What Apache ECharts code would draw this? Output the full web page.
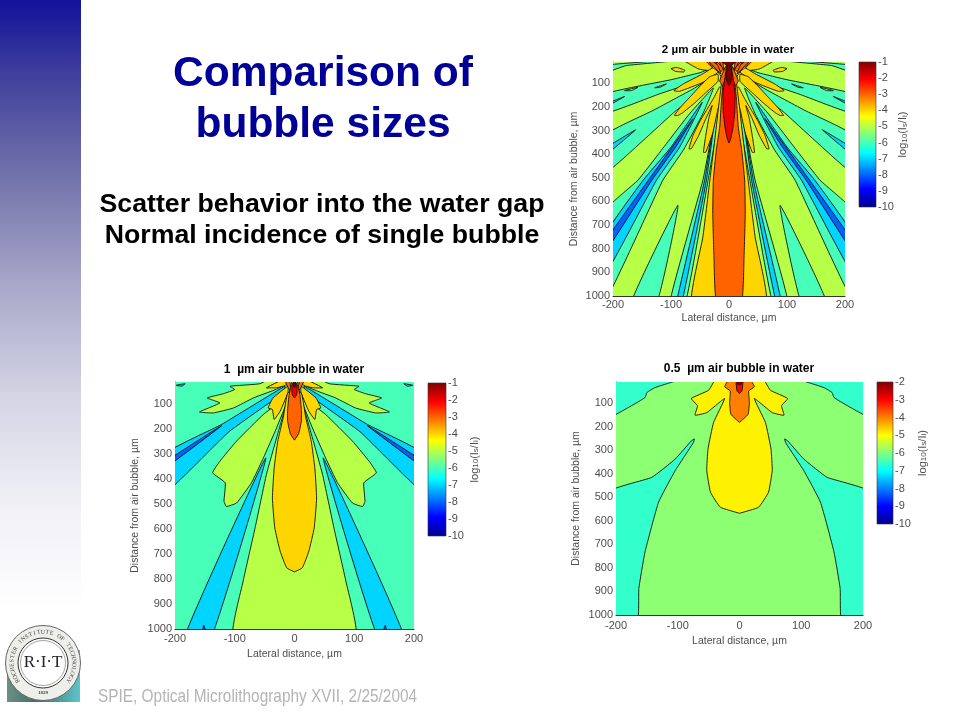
<!DOCTYPE html>
<html>
<head>
<meta charset="utf-8">
<style>html,body{margin:0;padding:0;background:#fff;overflow:hidden}#main{width:960px;height:720px}</style>
<script src="https://cdn.jsdelivr.net/npm/echarts@6/dist/echarts.min.js"></script>
</head>
<body>
<div id="main"></div>
<script>
// tick labels
var xTicks = [-200, -100, 0, 100, 200];
var yTicks = [100, 200, 300, 400, 500, 600, 700, 800, 900, 1000];
var chartTitles = ['2 \u00b5m air bubble in water', '1  \u00b5m air bubble in water', '0.5  \u00b5m air bubble in water'];
var colorRanges = [[-10, -1], [-10, -1], [-10, -2]];

// contour regions: [level, kind, outline as [lateral, distance]]
// kind: one = as is, pair = also mirrored, sym = left half closed by its mirror
var bubble2Regions = [
	[-5, 'one', [[-200, 0], [200, 0], [200, 1000], [-200, 1000]]],
	[-6, 'pair', [[-200, 21], [-145, 11], [-177, 25], [-200, 44]]],
	[-6, 'pair', [[-200, 138], [-100, 85], [-50, 55], [-28, 35], [-30, 55], [-60, 95], [-120, 145], [-200, 215]]],
	[-5, 'pair', [[-180, 131], [-157, 117], [-168, 131]]],
	[-5, 'pair', [[-128, 119], [-108, 103], [-119, 117]]],
	[-7, 'pair', [[-200, 176], [-180, 156], [-200, 183]]],
	[-6, 'pair', [[-200, 302], [-131, 215], [-62, 124], [-28, 75], [-39, 124], [-91, 215], [-148, 342], [-200, 451]]],
	[-7, 'pair', [[-200, 356], [-161, 297], [-200, 377]]],
	[-6, 'pair', [[-200, 609], [-157, 510], [-108, 356], [-68, 229], [-27, 120], [-45, 229], [-79, 384], [-114, 510], [-200, 1000]]],
	[-7, 'pair', [[-200, 693], [-148, 510], [-100, 370], [-46, 180], [-85, 370], [-125, 510], [-200, 848]]],
	[-8, 'pair', [[-200, 722], [-139, 510], [-98, 370], [-62, 250], [-92, 370], [-133, 510], [-200, 764]]],
	[-6, 'pair', [[-163, 1000], [-88, 616], [-122, 1000]]],
	[-6, 'pair', [[-99, 1000], [-45, 510], [-25, 250], [-15, 120], [-18, 250], [-36, 510], [-73, 1000]]],
	[-7, 'pair', [[-88, 1000], [-42, 510], [-22, 200], [-39, 510], [-79, 1000]]],
	[-4, 'pair', [[-100, 38], [-90, 33], [-76, 45], [-78, 52], [-92, 50]]],
	[-4, 'pair', [[-71, 12], [-53, 39], [-33, 46], [-27, 25], [-25, 12]]],
	[-4, 'pair', [[-95, 131], [-79, 103], [-45, 60], [-28, 35], [-19, 53], [-45, 96], [-85, 134]]],
	[-4, 'pair', [[-94, 236], [-85, 205], [-68, 160], [-50, 112], [-33, 72], [-19, 62], [-19, 92], [-40, 140], [-60, 185], [-80, 225], [-88, 236]]],
	[-4, 'pair', [[-69, 377], [-62, 320], [-50, 260], [-39, 215], [-27, 165], [-16, 115], [-11, 130], [-20, 220], [-28, 310], [-40, 392], [-44, 392], [-40, 320], [-35, 250], [-29, 194], [-40, 250], [-52, 320], [-65, 377]]],
	[-4, 'sym', [[-30, 10], [-14, 70], [-13, 100], [-18, 200], [-25, 350], [-33, 510], [-45, 750], [-62, 1000]]],
	[-3, 'sym', [[-4, 15], [-6, 40], [-10, 90], [-13, 173], [-16, 285], [-22, 384], [-27, 510], [-28, 650], [-26, 830], [-22, 1000]]],
	[-3, 'pair', [[-14, 14], [-22, 22], [-14, 50], [-9, 38]]],
	[-3, 'pair', [[-6, 30], [-16, 90], [-11, 110], [-4, 60]]],
	[-3, 'pair', [[-31, 10], [-20, 26], [-24, 10]]],
	[-3, 'pair', [[-20, 10], [-12, 30], [-15, 10]]],
	[-3, 'pair', [[-38, 10], [-30, 30], [-34, 10]]],
	[-3, 'pair', [[-16, 10], [-9, 45], [-11, 10]]],
	[-3, 'pair', [[-26, 12], [-14, 60], [-20, 22]]],
	[-2, 'sym', [[-2, 15], [-6, 60], [-10.5, 145], [-10, 220], [-7, 285], [-3, 335], [0, 353]]],
	[-1, 'sym', [[-2, 12], [-5, 60], [-4.5, 85], [-2, 102], [0, 110]]],
	[-1, 'sym', [[-12, 10], [-5, 22], [0, 24]]]
];

var bubble1Regions = [
	[-6, 'one', [[-200, 0], [200, 0], [200, 1000], [-200, 1000]]],
	[-7, 'pair', [[-198, 23], [-183, 17], [-189, 27]]],
	[-7, 'pair', [[-200, 277], [-122, 180], [-16, 27], [-19, 53], [-110, 210], [-200, 417]]],
	[-8, 'pair', [[-200, 305], [-122, 185], [-200, 325]]],
	[-7, 'pair', [[-178, 1000], [-48, 314], [-135, 1000]]],
	[-8, 'pair', [[-153, 1000], [-152, 985], [-150, 1000]]],
	[-5, 'pair', [[-24, 13], [-58, 17], [-108, 27], [-100, 40], [-119, 57], [-146, 74], [-125, 94], [-159, 130], [-136, 134], [-102, 114], [-69, 74], [-22, 29]]],
	[-5, 'pair', [[-11, 67], [-52, 140], [-97, 247], [-125, 328], [-137, 374], [-116, 414], [-118, 488], [-114, 509], [-97, 495], [-72, 414], [-52, 314], [-30, 194], [-11, 80]]],
	[-5, 'sym', [[-5, 13], [-11, 74], [-30, 234], [-47, 381], [-66, 595], [-86, 809], [-100, 1000]]],
	[-4, 'pair', [[-47, 33], [-30, 13], [-11, 13], [-16, 24], [-30, 33]]],
	[-4, 'pair', [[-11, 27], [-36, 74], [-44, 114], [-37, 120], [-34, 160], [-24, 127], [-11, 53]]],
	[-4, 'sym', [[-11, 53], [-19, 154], [-28, 247], [-34, 354], [-37, 475], [-33, 595], [-24, 688], [-13, 755], [0, 771]]],
	[-3, 'pair', [[-14, 14], [-8, 14], [-5, 40], [-9, 40]]],
	[-3, 'sym', [[-2, 13], [-6, 30], [-9, 60], [-11.5, 120], [-11.5, 167], [-7, 217], [0, 243]]],
	[-2, 'sym', [[-3, 15], [-4.5, 40], [-3.5, 62], [0, 74]]],
	[-1, 'sym', [[-2, 12], [-1, 30], [0, 32]]]
];

var bubble05Regions = [
	[-5.9, 'one', [[-200, 0], [200, 0], [200, 1000], [-200, 1000]]],
	[-6.6, 'pair', [[-200, 10], [-110, 10], [-137, 34], [-150, 55], [-153, 76], [-175, 111], [-200, 144]]],
	[-6.6, 'pair', [[-200, 468], [-142, 415], [-104, 337], [-78, 260], [-73, 252], [-75, 269], [-104, 386], [-131, 520], [-153, 732], [-163, 887], [-165, 1000], [-200, 1000]]],
	[-4.9, 'sym', [[-42, 13], [-50, 45], [-78, 80], [-68, 111], [-72, 151], [-53, 140], [-24, 80], [-42, 182], [-51, 295], [-53, 386], [-47, 478], [-31, 542], [0, 568]]],
	[-4, 'sym', [[-20, 13], [-24, 30], [-15, 48], [-16, 97], [-14, 147], [0, 182]]],
	[-3, 'sym', [[-5, 13], [-4, 48], [0, 59]]],
	[-2, 'sym', [[-3, 12], [-3, 20], [0, 22]]]
];

var allRegions = [bubble2Regions, bubble1Regions, bubble05Regions];

var grids = [
	{left: 613, top: 62, width: 232, height: 234},
	{left: 175, top: 382, width: 239, height: 247},
	{left: 616, top: 382, width: 247, height: 233},
	{left: 859, top: 62, width: 17, height: 145},
	{left: 428, top: 383, width: 18, height: 153},
	{left: 877, top: 382, width: 16, height: 142}
];
var labelGrey = '#4d4d4d';
var fontName = '"Liberation Sans", Arial, sans-serif';
var jetStops = [
	{offset: 0, color: '#00008f'}, {offset: 0.125, color: '#0000ff'}, {offset: 0.375, color: '#00ffff'},
	{offset: 0.625, color: '#ffff00'}, {offset: 0.875, color: '#ff0000'}, {offset: 1, color: '#800000'}
];

// matlab jet, the colour of one contour level
function jetColor(level, range) {
	var t = (level - range[0]) / (range[1] - range[0]);
	function ch(v) { return Math.round(Math.max(0, Math.min(1, v)) * 255); }
	var r = Math.min(4 * t - 1.5, 4.5 - 4 * t);
	var g = Math.min(4 * t - 0.5, 3.5 - 4 * t);
	var b = Math.min(4 * t + 0.5, 2.5 - 4 * t);
	return 'rgb(' + ch(r) + ',' + ch(g) + ',' + ch(b) + ')';
}

// run outlines that touch the frame on past it along their own slope, the clip cuts them clean
function padOutline(pts, closed) {
	var n = pts.length;
	function onTopBottom(q) { return q[1] >= 1000 || q[1] <= 14; }
	return pts.map(function(p, k) {
		var onX = Math.abs(p[0]) >= 200, onY = onTopBottom(p);
		if (!onX && !onY) return p;
		if (onX && onY) return [p[0] * 1.08, p[1] >= 1000 ? 1030 : -10];
		var a = pts[closed ? (k + n - 1) % n : k - 1];
		var b = pts[closed ? (k + 1) % n : k + 1];
		var cand = [a, b].filter(function(q) {
			return q && (onX ? q[0] != p[0] : !onTopBottom(q));
		});
		if (!cand.length) return onX ? [p[0] * 1.08, p[1]] : [p[0], p[1] >= 1000 ? 1030 : -10];
		var q = cand[0];
		var d = onX ? 15 / Math.abs(p[0] - q[0]) : 30 / Math.abs(p[1] - q[1]);
		return [p[0] + (p[0] - q[0]) * d, p[1] + (p[1] - q[1]) * d];
	});
}

function expandRegions(regions) {
	var out = [];
	regions.forEach(function(r) {
		var pts = padOutline(r[2], r[1] != 'sym');
		var flip = pts.map(function(p) { return [-p[0], p[1]]; });
		if (r[1] == 'one') {
			out.push({level: r[0], pts: pts, sharp: true});
		} else if (r[1] == 'pair') {
			out.push({level: r[0], pts: pts});
			out.push({level: r[0], pts: flip});
		} else {
			out.push({level: r[0], pts: pts.concat(flip.reverse())});
		}
	});
	return out;
}

function makeContourSeries(i) {
	var list = expandRegions(allRegions[i]);
	return {
		type: 'custom',
		xAxisIndex: i,
		yAxisIndex: i,
		clip: true,
		silent: true,
		animation: false,
		data: list.map(function(d, k) { return [0, 500, k]; }),
		renderItem: function(params, api) {
			var item = list[api.value(2)];
			return {
				type: 'polygon',
				shape: {
					points: item.pts.map(function(p) { return api.coord(p); }),
					smooth: item.sharp ? 0 : 0.12
				},
				style: {fill: jetColor(item.level, colorRanges[i]), stroke: '#111', lineWidth: 0.9}
			};
		}
	};
}

function makeColorbarSeries(i) {
	var range = colorRanges[i];
	return {
		type: 'custom',
		xAxisIndex: i + 3,
		yAxisIndex: i + 3,
		silent: true,
		animation: false,
		data: [[0, range[0], range[1]]],
		renderItem: function(params, api) {
			var a = api.coord([0, api.value(1)]);
			var b = api.coord([1, api.value(2)]);
			return {
				type: 'rect',
				shape: {x: a[0], y: b[1], width: b[0] - a[0], height: a[1] - b[1]},
				style: {fill: new echarts.graphic.LinearGradient(0, 1, 0, 0, jetStops), stroke: '#333', lineWidth: 0.6}
			};
		}
	};
}

var xAxes = [], yAxes = [], series = [], titles = [];
var titleCenters = [723, 289, 734];
var titleTops = [39, 359, 358];
var titleSizes = [11.6, 12, 12];
var xNameGaps = [17, 20, 21];
var xLabelMargins = [3, 4, 5];
var yNameGaps = [33, 34, 34];
var barNameGaps = [17, 23, 24];

for (var i = 0; i < 3; i++) {
	xAxes.push({
		type: 'value', gridIndex: i, min: -200, max: 200, interval: 100,
		name: 'Lateral distance, \u00b5m', nameLocation: 'middle', nameGap: xNameGaps[i],
		nameTextStyle: {color: labelGrey, fontSize: 10.5, fontFamily: fontName},
		axisLine: {onZero: false, lineStyle: {color: '#333', width: 1}},
		axisTick: {show: false},
		axisLabel: {color: labelGrey, fontSize: 11, fontFamily: fontName, margin: xLabelMargins[i], hideOverlap: false},
		splitLine: {show: false}
	});
	yAxes.push({
		type: 'value', gridIndex: i, inverse: true, min: 10, max: 1000,
		name: 'Distance from air bubble, \u00b5m', nameLocation: 'middle', nameGap: yNameGaps[i], nameRotate: 90,
		nameTextStyle: {color: labelGrey, fontSize: 10.5, fontFamily: fontName},
		axisLine: {onZero: false, lineStyle: {color: '#555', width: 1}},
		axisTick: {show: false, customValues: yTicks},
		axisLabel: {color: labelGrey, fontSize: 11, fontFamily: fontName, margin: 3, customValues: yTicks, formatter: function(v) { return String(v); }},
		splitLine: {show: false}
	});
	series.push(makeContourSeries(i));
	titles.push({
		text: chartTitles[i], left: titleCenters[i], top: titleTops[i], textAlign: 'center',
		textStyle: {color: '#000', fontSize: titleSizes[i], fontWeight: 'bold', fontFamily: fontName}
	});
}
for (var j = 0; j < 3; j++) {
	xAxes.push({type: 'value', gridIndex: j + 3, min: 0, max: 1, show: false});
	yAxes.push({
		type: 'value', gridIndex: j + 3, position: 'right', min: colorRanges[j][0], max: colorRanges[j][1], interval: 1,
		name: 'log{sub|10}(I{sub|s}/I{sub|i})', nameLocation: 'middle', nameGap: barNameGaps[j], nameRotate: 90,
		nameTextStyle: {color: labelGrey, fontSize: 11, fontFamily: fontName, rich: {sub: {fontSize: 8, color: labelGrey, verticalAlign: 'bottom', fontFamily: fontName}}},
		axisLine: {show: false},
		axisTick: {show: false},
		axisLabel: {color: labelGrey, fontSize: 11, fontFamily: fontName, margin: 2},
		splitLine: {show: false}
	});
	series.push(makeColorbarSeries(j));
}

// slide decoration
var sealText = 'ROCHESTER INSTITUTE OF TECHNOLOGY';
var graphics = [
	{type: 'rect', z: -1, shape: {x: 0, y: 0, width: 81, height: 720}, style: {fill: new echarts.graphic.LinearGradient(0, 0, 0, 1, [
		{offset: 0, color: '#12129a'}, {offset: 0.1, color: '#3e3e9c'}, {offset: 0.25, color: '#7474ac'},
		{offset: 0.4, color: '#a9a9ca'}, {offset: 0.55, color: '#d4d4e4'}, {offset: 0.7, color: '#f0f0f6'}, {offset: 0.85, color: '#ffffff'}
	])}},
	{type: 'text', x: 323, y: 74, style: {text: 'Comparison of', align: 'center', verticalAlign: 'middle', fill: '#000099', font: 'bold 42.5px ' + fontName}},
	{type: 'text', x: 323, y: 125, style: {text: 'bubble sizes', align: 'center', verticalAlign: 'middle', fill: '#000099', font: 'bold 42.5px ' + fontName}},
	{type: 'text', x: 322, y: 205, style: {text: 'Scatter behavior into the water gap', align: 'center', verticalAlign: 'middle', fill: '#000', font: 'bold 26.7px ' + fontName}},
	{type: 'text', x: 322, y: 236, style: {text: 'Normal incidence of single bubble', align: 'center', verticalAlign: 'middle', fill: '#000', font: 'bold 26.7px ' + fontName}},
	{type: 'text', x: 98, y: 697, scaleX: 0.81, style: {text: 'SPIE, Optical Microlithography XVII, 2/25/2004', align: 'left', verticalAlign: 'middle', fill: '#b4b4b4', font: '19px ' + fontName}},
	{type: 'rect', shape: {x: 7, y: 650, width: 73, height: 52}, style: {fill: new echarts.graphic.LinearGradient(0, 0, 1, 0, [
		{offset: 0, color: '#6f8f85'}, {offset: 0.4, color: '#3f6f68'}, {offset: 1, color: '#5cc4cc'}
	])}},
	{type: 'circle', shape: {cx: 43, cy: 663, r: 37.5}, style: {fill: '#eeeeea', stroke: '#666', lineWidth: 1}},
	{type: 'circle', shape: {cx: 43, cy: 663, r: 25}, style: {fill: '#fff', stroke: '#333', lineWidth: 1}},
	{type: 'circle', shape: {cx: 43, cy: 663, r: 22.5}, style: {fill: '#fff', stroke: '#666', lineWidth: 0.6}},
	{type: 'text', x: 43, y: 663, style: {text: 'R\u00b7I\u00b7T', align: 'center', verticalAlign: 'middle', fill: '#222', font: '17px "Liberation Serif", serif'}},
	{type: 'text', x: 43, y: 693, style: {text: '1829', align: 'center', verticalAlign: 'middle', fill: '#444', font: 'bold 5px "Liberation Serif", serif'}}
];
for (var c = 0; c < sealText.length; c++) {
	var ang = (-125 + 250 * c / (sealText.length - 1)) * Math.PI / 180;
	graphics.push({
		type: 'text', x: 43 + 31 * Math.sin(ang), y: 663 - 31 * Math.cos(ang), rotation: -ang,
		style: {text: sealText.charAt(c), align: 'center', verticalAlign: 'middle', fill: '#444', font: '6px "Liberation Serif", serif'}
	});
}

var mainChart = echarts.init(document.getElementById('main'), null, {renderer: 'canvas'});
mainChart.setOption({
	backgroundColor: '#fff',
	animation: false,
	title: titles,
	grid: grids,
	xAxis: xAxes,
	yAxis: yAxes,
	series: series,
	graphic: graphics
});
</script>
</body>
</html>
